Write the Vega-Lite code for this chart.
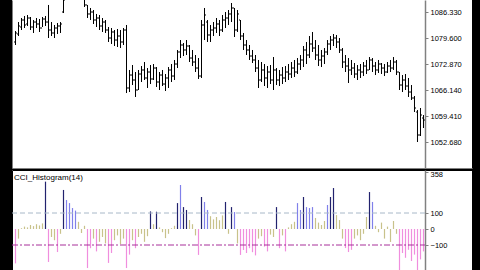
{
  "$schema": "https://vega.github.io/schema/vega-lite/v6.json",
  "background": "black",
  "padding": {"left": 12, "right": 8, "top": 0, "bottom": 0},
  "spacing": 2,
  "bounds": "flush",
  "config": {
    "view": {"fill": "white", "stroke": null},
    "axis": {"labelFont": "Liberation Sans", "labelFontSize": 7.5, "labelColor": "#000000", "domainColor": "#808080", "tickColor": "#808080", "grid": false, "labelOverlap": false}
  },
  "datasets": {
    "bars": [
      {"i":0,"h":1081.41,"l":1077.79,"o":1078.57,"c":1080.90,"cci":-215},
      {"i":1,"h":1083.74,"l":1080.12,"o":1080.64,"c":1082.71,"cci":-60},
      {"i":2,"h":1084.78,"l":1081.67,"o":1082.45,"c":1084.26,"cci":5},
      {"i":3,"h":1085.30,"l":1082.19,"o":1084.26,"c":1082.97,"cci":15},
      {"i":4,"h":1085.56,"l":1082.71,"o":1083.23,"c":1084.78,"cci":10},
      {"i":5,"h":1085.04,"l":1081.67,"o":1084.78,"c":1082.45,"cci":25},
      {"i":6,"h":1084.26,"l":1080.90,"o":1082.45,"c":1083.74,"cci":18},
      {"i":7,"h":1084.78,"l":1082.19,"o":1083.74,"c":1083.23,"cci":30},
      {"i":8,"h":1084.52,"l":1081.16,"o":1083.23,"c":1082.19,"cci":22},
      {"i":9,"h":1085.04,"l":1082.45,"o":1082.19,"c":1084.52,"cci":35},
      {"i":10,"h":1085.30,"l":1082.71,"o":1084.52,"c":1083.74,"cci":296,"sig":1},
      {"i":11,"h":1088.15,"l":1079.60,"o":1083.74,"c":1081.67,"cci":-206},
      {"i":12,"h":1083.74,"l":1080.12,"o":1081.67,"c":1080.90,"cci":-50},
      {"i":13,"h":1082.97,"l":1079.60,"o":1080.90,"c":1082.19,"cci":-70},
      {"i":14,"h":1083.49,"l":1080.64,"o":1082.19,"c":1082.71,"cci":-144},
      {"i":15,"h":1083.74,"l":1080.90,"o":1082.71,"c":1083.23,"cci":-30},
      {"i":16,"h":1090.73,"l":1086.07,"o":1086.33,"c":1089.44,"cci":244,"sig":1},
      {"i":17,"h":1094.62,"l":1090.48,"o":1090.73,"c":1093.32,"cci":181},
      {"i":18,"h":1096.69,"l":1092.03,"o":1093.32,"c":1095.14,"cci":162},
      {"i":19,"h":1097.21,"l":1093.06,"o":1095.14,"c":1094.10,"cci":131},
      {"i":20,"h":1095.91,"l":1091.51,"o":1094.10,"c":1092.55,"cci":115},
      {"i":21,"h":1095.14,"l":1090.48,"o":1092.55,"c":1091.51,"cci":45},
      {"i":22,"h":1094.10,"l":1089.70,"o":1091.51,"c":1090.48,"cci":-25},
      {"i":23,"h":1090.99,"l":1087.63,"o":1090.48,"c":1088.15,"cci":20},
      {"i":24,"h":1088.15,"l":1084.78,"o":1088.15,"c":1085.82,"cci":-244},
      {"i":25,"h":1087.37,"l":1084.26,"o":1085.82,"c":1086.33,"cci":-120},
      {"i":26,"h":1086.85,"l":1083.23,"o":1086.33,"c":1084.26,"cci":-60},
      {"i":27,"h":1085.82,"l":1082.45,"o":1084.26,"c":1084.78,"cci":-140},
      {"i":28,"h":1085.56,"l":1081.67,"o":1084.78,"c":1082.71,"cci":-80},
      {"i":29,"h":1084.78,"l":1081.16,"o":1082.71,"c":1083.74,"cci":-50},
      {"i":30,"h":1084.26,"l":1080.90,"o":1083.74,"c":1081.67,"cci":-90},
      {"i":31,"h":1082.45,"l":1078.57,"o":1081.67,"c":1079.60,"cci":-212},
      {"i":32,"h":1082.19,"l":1078.05,"o":1079.60,"c":1081.16,"cci":-150},
      {"i":33,"h":1081.67,"l":1077.53,"o":1081.16,"c":1079.08,"cci":-70},
      {"i":34,"h":1081.93,"l":1077.27,"o":1079.08,"c":1080.12,"cci":-40},
      {"i":35,"h":1081.67,"l":1077.01,"o":1080.12,"c":1078.57,"cci":-95},
      {"i":36,"h":1082.19,"l":1077.79,"o":1078.57,"c":1081.67,"cci":-60},
      {"i":37,"h":1082.97,"l":1065.36,"o":1081.67,"c":1066.66,"cci":-244},
      {"i":38,"h":1071.32,"l":1065.62,"o":1066.66,"c":1070.02,"cci":-160},
      {"i":39,"h":1072.61,"l":1067.43,"o":1070.02,"c":1068.73,"cci":-70},
      {"i":40,"h":1070.80,"l":1064.33,"o":1068.73,"c":1066.14,"cci":-120},
      {"i":41,"h":1071.32,"l":1066.14,"o":1066.14,"c":1070.28,"cci":-50},
      {"i":42,"h":1072.35,"l":1068.21,"o":1070.28,"c":1071.32,"cci":-30},
      {"i":43,"h":1073.39,"l":1068.73,"o":1071.32,"c":1069.25,"cci":-80},
      {"i":44,"h":1071.83,"l":1066.66,"o":1069.25,"c":1070.80,"cci":-45},
      {"i":45,"h":1072.61,"l":1067.69,"o":1070.80,"c":1068.99,"cci":110,"sig":1},
      {"i":46,"h":1072.87,"l":1068.73,"o":1068.99,"c":1071.83,"cci":30},
      {"i":47,"h":1072.09,"l":1066.92,"o":1071.83,"c":1068.21,"cci":108,"sig":1},
      {"i":48,"h":1070.80,"l":1066.14,"o":1068.21,"c":1070.02,"cci":10},
      {"i":49,"h":1071.32,"l":1067.17,"o":1070.02,"c":1067.69,"cci":-20},
      {"i":50,"h":1070.28,"l":1065.88,"o":1067.69,"c":1069.25,"cci":-57},
      {"i":51,"h":1072.09,"l":1066.66,"o":1069.25,"c":1071.32,"cci":-30},
      {"i":52,"h":1072.87,"l":1068.21,"o":1071.32,"c":1069.76,"cci":5},
      {"i":53,"h":1073.91,"l":1068.73,"o":1069.76,"c":1072.87,"cci":20},
      {"i":54,"h":1076.50,"l":1071.83,"o":1072.87,"c":1075.98,"cci":162,"sig":1},
      {"i":55,"h":1079.08,"l":1074.42,"o":1075.98,"c":1077.79,"cci":275},
      {"i":56,"h":1078.31,"l":1074.94,"o":1077.79,"c":1076.50,"cci":137,"sig":1},
      {"i":57,"h":1079.08,"l":1075.20,"o":1076.50,"c":1077.53,"cci":119,"sig":1},
      {"i":58,"h":1077.79,"l":1073.39,"o":1077.53,"c":1074.42,"cci":56},
      {"i":59,"h":1076.50,"l":1072.35,"o":1074.42,"c":1073.39,"cci":30},
      {"i":60,"h":1075.20,"l":1070.80,"o":1073.39,"c":1071.83,"cci":-40},
      {"i":61,"h":1074.42,"l":1068.99,"o":1071.83,"c":1069.76,"cci":-162},
      {"i":62,"h":1084.26,"l":1069.25,"o":1069.76,"c":1082.97,"cci":200,"sig":1},
      {"i":63,"h":1087.37,"l":1079.08,"o":1082.97,"c":1085.56,"cci":169},
      {"i":64,"h":1084.26,"l":1078.57,"o":1083.74,"c":1080.38,"cci":119},
      {"i":65,"h":1082.97,"l":1078.57,"o":1080.38,"c":1081.67,"cci":80},
      {"i":66,"h":1083.74,"l":1080.12,"o":1081.67,"c":1082.19,"cci":60},
      {"i":67,"h":1084.78,"l":1080.90,"o":1082.19,"c":1083.23,"cci":75},
      {"i":68,"h":1084.26,"l":1080.12,"o":1083.23,"c":1081.67,"cci":55},
      {"i":69,"h":1085.56,"l":1081.16,"o":1081.67,"c":1084.26,"cci":85},
      {"i":70,"h":1086.33,"l":1082.19,"o":1084.26,"c":1084.78,"cci":169,"sig":1},
      {"i":71,"h":1086.85,"l":1082.97,"o":1084.78,"c":1085.82,"cci":-30},
      {"i":72,"h":1088.66,"l":1083.74,"o":1085.82,"c":1087.37,"cci":137,"sig":1},
      {"i":73,"h":1087.37,"l":1079.86,"o":1087.37,"c":1081.67,"cci":106},
      {"i":74,"h":1086.85,"l":1081.16,"o":1081.67,"c":1085.82,"cci":-90},
      {"i":75,"h":1084.26,"l":1079.08,"o":1084.26,"c":1080.12,"cci":-162},
      {"i":76,"h":1080.90,"l":1076.50,"o":1080.12,"c":1077.79,"cci":-131},
      {"i":77,"h":1079.08,"l":1075.20,"o":1077.79,"c":1076.50,"cci":-150},
      {"i":78,"h":1077.79,"l":1073.91,"o":1076.50,"c":1074.94,"cci":-120},
      {"i":79,"h":1076.50,"l":1073.13,"o":1074.94,"c":1073.91,"cci":-145},
      {"i":80,"h":1075.20,"l":1070.80,"o":1073.91,"c":1071.83,"cci":-165},
      {"i":81,"h":1073.91,"l":1066.66,"o":1071.83,"c":1068.73,"cci":-60},
      {"i":82,"h":1073.39,"l":1068.21,"o":1068.73,"c":1071.32,"cci":-45},
      {"i":83,"h":1072.87,"l":1067.17,"o":1071.32,"c":1069.25,"cci":-110},
      {"i":84,"h":1072.35,"l":1066.66,"o":1069.25,"c":1070.80,"cci":-140},
      {"i":85,"h":1072.61,"l":1067.69,"o":1070.80,"c":1068.73,"cci":-35},
      {"i":86,"h":1074.68,"l":1066.14,"o":1068.73,"c":1071.32,"cci":-50},
      {"i":87,"h":1071.83,"l":1067.43,"o":1071.32,"c":1068.73,"cci":137,"sig":1},
      {"i":88,"h":1071.32,"l":1067.17,"o":1068.73,"c":1070.02,"cci":-120},
      {"i":89,"h":1072.09,"l":1067.69,"o":1070.02,"c":1069.25,"cci":-40},
      {"i":90,"h":1072.35,"l":1068.21,"o":1069.25,"c":1070.80,"cci":-140},
      {"i":91,"h":1072.87,"l":1068.73,"o":1070.80,"c":1070.28,"cci":10},
      {"i":92,"h":1073.39,"l":1069.25,"o":1070.28,"c":1071.83,"cci":30},
      {"i":93,"h":1073.91,"l":1069.50,"o":1071.83,"c":1070.80,"cci":45},
      {"i":94,"h":1074.42,"l":1070.28,"o":1070.80,"c":1072.87,"cci":162},
      {"i":95,"h":1075.20,"l":1071.32,"o":1072.87,"c":1073.91,"cci":119},
      {"i":96,"h":1077.53,"l":1072.09,"o":1073.91,"c":1076.50,"cci":200,"sig":1},
      {"i":97,"h":1078.57,"l":1072.87,"o":1076.50,"c":1075.20,"cci":137},
      {"i":98,"h":1080.12,"l":1074.42,"o":1075.20,"c":1078.05,"cci":131},
      {"i":99,"h":1081.16,"l":1075.98,"o":1078.05,"c":1077.01,"cci":137},
      {"i":100,"h":1079.08,"l":1073.91,"o":1077.01,"c":1075.20,"cci":69},
      {"i":101,"h":1077.79,"l":1072.35,"o":1075.20,"c":1073.91,"cci":40},
      {"i":102,"h":1076.50,"l":1072.09,"o":1073.91,"c":1074.94,"cci":25},
      {"i":103,"h":1077.01,"l":1072.87,"o":1074.94,"c":1075.98,"cci":50},
      {"i":104,"h":1079.08,"l":1075.20,"o":1075.98,"c":1078.05,"cci":150},
      {"i":105,"h":1080.12,"l":1076.50,"o":1078.05,"c":1079.08,"cci":200,"sig":1},
      {"i":106,"h":1080.64,"l":1077.53,"o":1079.08,"c":1079.60,"cci":256,"sig":1},
      {"i":107,"h":1080.38,"l":1077.01,"o":1079.60,"c":1078.57,"cci":87},
      {"i":108,"h":1079.60,"l":1075.72,"o":1078.57,"c":1076.50,"cci":56},
      {"i":109,"h":1077.01,"l":1071.83,"o":1076.50,"c":1073.39,"cci":-60},
      {"i":110,"h":1075.20,"l":1070.80,"o":1073.39,"c":1072.35,"cci":-119},
      {"i":111,"h":1074.42,"l":1067.95,"o":1072.35,"c":1071.32,"cci":-144},
      {"i":112,"h":1073.91,"l":1070.02,"o":1071.32,"c":1071.83,"cci":-130},
      {"i":113,"h":1073.13,"l":1069.25,"o":1071.83,"c":1070.28,"cci":-60},
      {"i":114,"h":1072.61,"l":1068.73,"o":1070.28,"c":1071.32,"cci":-40},
      {"i":115,"h":1072.87,"l":1069.25,"o":1071.32,"c":1070.80,"cci":-70},
      {"i":116,"h":1073.39,"l":1069.76,"o":1070.80,"c":1072.35,"cci":-30},
      {"i":117,"h":1073.91,"l":1070.28,"o":1072.35,"c":1071.32,"cci":75},
      {"i":118,"h":1074.68,"l":1071.32,"o":1071.32,"c":1073.91,"cci":231,"sig":1},
      {"i":119,"h":1074.42,"l":1070.80,"o":1073.91,"c":1072.35,"cci":169},
      {"i":120,"h":1073.39,"l":1070.02,"o":1072.35,"c":1071.32,"cci":20},
      {"i":121,"h":1073.91,"l":1070.54,"o":1071.32,"c":1072.87,"cci":-20},
      {"i":122,"h":1073.13,"l":1070.28,"o":1072.87,"c":1071.83,"cci":40},
      {"i":123,"h":1072.87,"l":1069.76,"o":1071.83,"c":1070.80,"cci":-60},
      {"i":124,"h":1073.39,"l":1070.54,"o":1070.80,"c":1072.35,"cci":15},
      {"i":125,"h":1073.91,"l":1070.80,"o":1072.35,"c":1071.83,"cci":-81},
      {"i":126,"h":1074.68,"l":1071.32,"o":1071.83,"c":1073.39,"cci":50},
      {"i":127,"h":1073.91,"l":1070.02,"o":1073.39,"c":1070.80,"cci":-30},
      {"i":128,"h":1070.80,"l":1066.14,"o":1070.80,"c":1067.43,"cci":-260},
      {"i":129,"h":1070.02,"l":1065.62,"o":1067.43,"c":1068.73,"cci":-150},
      {"i":130,"h":1070.28,"l":1066.14,"o":1068.73,"c":1067.17,"cci":-180},
      {"i":131,"h":1069.25,"l":1064.33,"o":1067.17,"c":1065.62,"cci":-130},
      {"i":132,"h":1067.43,"l":1063.55,"o":1065.62,"c":1064.07,"cci":-200},
      {"i":133,"h":1064.59,"l":1060.44,"o":1064.07,"c":1061.48,"cci":-160},
      {"i":134,"h":1060.96,"l":1052.68,"o":1060.44,"c":1054.49,"cci":-270},
      {"i":135,"h":1061.48,"l":1054.23,"o":1054.49,"c":1059.67,"cci":-190},
      {"i":136,"h":1059.67,"l":1056.30,"o":1058.89,"c":1058.37,"cci":-140}
    ]
  },
  "vconcat": [
    {
      "width": 460,
      "height": 168,
      "data": {"name": "bars"},
      "resolve": {"axis": {"y": "independent"}},
      "layer": [
        {
          "mark": {"type": "rule", "color": "#000000", "strokeWidth": 1, "clip": true},
          "encoding": {
            "x": {"field": "i", "type": "quantitative", "scale": {"domain": [-1.1667, 152.1667], "nice": false, "zero": false},
                  "axis": {"orient": "bottom", "labels": false, "ticks": false, "title": null, "domainColor": "#808080", "domainWidth": 1}},
            "y": {"field": "l", "type": "quantitative", "title": null, "scale": {"domain": [1045.95, 1089.44], "nice": false, "zero": false},
                  "axis": {"orient": "right", "offset": -47, "values": [1052.68, 1059.41, 1066.14, 1072.87, 1079.6, 1086.33], "format": ".3f", "tickSize": 3, "labelPadding": 2, "domainWidth": 1.5}},
            "y2": {"field": "h"}
          }
        },
        {
          "mark": {"type": "rule", "color": "#000000", "strokeWidth": 1, "clip": true, "xOffset": -1.5, "x2Offset": -0.5},
          "encoding": {
            "x": {"field": "i", "type": "quantitative"},
            "x2": {"field": "i"},
            "y": {"field": "o", "type": "quantitative", "title": null,
                  "axis": {"orient": "left", "labels": false, "ticks": false, "domainColor": "#808080", "domainWidth": 1}}
          }
        },
        {
          "mark": {"type": "rule", "color": "#000000", "strokeWidth": 1, "clip": true, "xOffset": 0.5, "x2Offset": 1.5},
          "encoding": {
            "x": {"field": "i", "type": "quantitative"},
            "x2": {"field": "i"},
            "y": {"field": "c", "type": "quantitative", "title": null, "axis": null}
          }
        }
      ]
    },
    {
      "width": 460,
      "height": 100,
      "resolve": {"axis": {"y": "independent"}},
      "layer": [
        {
          "data": {"name": "bars"},
          "mark": {"type": "rule", "strokeWidth": 1.2, "clip": true},
          "encoding": {
            "x": {"field": "i", "type": "quantitative", "scale": {"domain": [-1.1667, 152.1667], "nice": false, "zero": false},
                  "axis": {"orient": "top", "labels": false, "ticks": false, "title": null, "domainColor": "#000000", "domainWidth": 1}},
            "y": {"field": "cci", "type": "quantitative", "title": null, "scale": {"domain": [-256.25, 368.75], "nice": false, "zero": false},
                  "axis": {"orient": "right", "offset": -47, "values": [358, 100, 0, -100], "tickSize": 3, "labelPadding": 2, "domainWidth": 1.5,
                           "labelOffset": {"condition": {"test": "datum.value > 300", "value": 3}, "value": 0}}},
            "y2": {"datum": 0},
            "color": {
              "condition": [
                {"test": "datum.sig === 1", "value": "#22226e"},
                {"test": "datum.cci > 100", "value": "#8080ea"},
                {"test": "datum.cci < -100", "value": "#f08ede"}
              ],
              "value": "#c8c28a"
            }
          }
        },
        {
          "data": {"values": [{"v": 100}]},
          "mark": {"type": "rule", "color": "#a8b8c8", "strokeWidth": 1, "strokeDash": [5, 3], "clip": true},
          "encoding": {
            "x": {"datum": -1.1667, "type": "quantitative"},
            "x2": {"datum": 136.5},
            "y": {"field": "v", "type": "quantitative", "title": null,
                  "axis": {"orient": "left", "labels": false, "ticks": false, "domainColor": "#000000", "domainWidth": 1}}}
        },
        {
          "data": {"values": [{"v": -100}]},
          "mark": {"type": "rule", "color": "#a8309a", "strokeWidth": 1, "strokeDash": [6, 2, 2, 2], "clip": true},
          "encoding": {
            "x": {"datum": -1.1667, "type": "quantitative"},
            "x2": {"datum": 136.5},
            "y": {"field": "v", "type": "quantitative", "title": null, "axis": null}}
        },
        {
          "data": {"values": [{"label": "CCI_Histogram(14)"}]},
          "mark": {"type": "text", "align": "left", "baseline": "top", "font": "Liberation Sans", "fontSize": 8, "color": "#000000"},
          "encoding": {
            "x": {"datum": -0.5, "type": "quantitative"},
            "y": {"datum": 344, "type": "quantitative", "axis": null},
            "text": {"field": "label"}
          }
        }
      ]
    }
  ]
}
